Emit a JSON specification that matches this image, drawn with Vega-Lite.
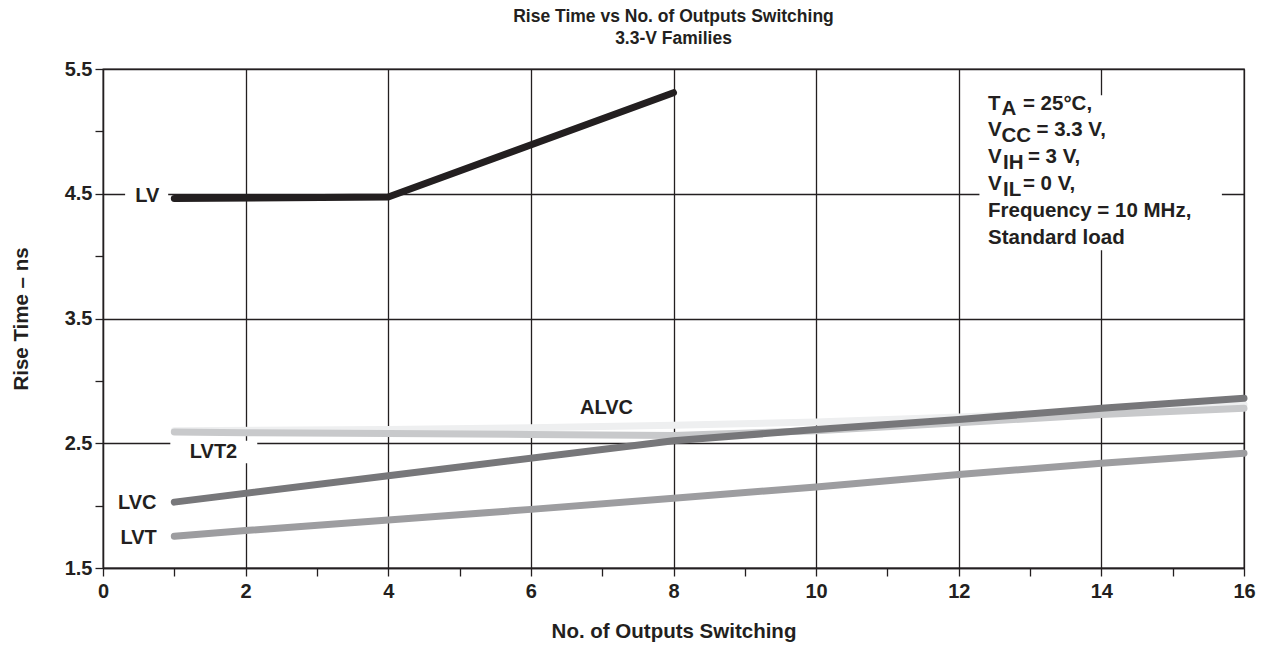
{
  "$schema": "https://vega.github.io/schema/vega-lite/v6.json",
  "width": 1141,
  "height": 499,
  "autosize": {"type": "none"},
  "padding": {"left": 103, "top": 69, "right": 30, "bottom": 87},
  "background": "white",
  "config": {
    "font": "Liberation Sans",
    "view": {"stroke": "#231f20", "strokeWidth": 1.3},
    "axis": {
      "domainColor": "#231f20",
      "domainWidth": 1.3,
      "tickColor": "#231f20",
      "tickWidth": 1.3,
      "tickSize": 8,
      "gridColor": "#231f20",
      "gridWidth": 1.3,
      "labelFont": "Liberation Sans",
      "labelFontWeight": "bold",
      "labelFontSize": 20,
      "labelColor": "#231f20",
      "titleFont": "Liberation Sans",
      "titleFontWeight": "bold",
      "titleFontSize": 20.5,
      "titleColor": "#231f20"
    }
  },
  "title": {
    "text": ["Rise Time vs No. of Outputs Switching", "3.3-V Families"],
    "fontSize": 17.5,
    "fontWeight": "bold",
    "font": "Liberation Sans",
    "color": "#231f20",
    "anchor": "middle",
    "lineHeight": 22,
    "offset": 12
  },
  "datasets": {
    "curves": [
      {"series": "ALVC", "outputs": 1, "rise": 2.6},
      {"series": "ALVC", "outputs": 4, "rise": 2.61},
      {"series": "ALVC", "outputs": 6, "rise": 2.625},
      {"series": "ALVC", "outputs": 8, "rise": 2.645},
      {"series": "ALVC", "outputs": 10, "rise": 2.67},
      {"series": "ALVC", "outputs": 12, "rise": 2.71},
      {"series": "ALVC", "outputs": 14, "rise": 2.76},
      {"series": "ALVC", "outputs": 16, "rise": 2.81},
      {"series": "LVT2", "outputs": 1, "rise": 2.59},
      {"series": "LVT2", "outputs": 2, "rise": 2.585},
      {"series": "LVT2", "outputs": 4, "rise": 2.578},
      {"series": "LVT2", "outputs": 6, "rise": 2.57},
      {"series": "LVT2", "outputs": 8, "rise": 2.563},
      {"series": "LVT2", "outputs": 10, "rise": 2.6},
      {"series": "LVT2", "outputs": 12, "rise": 2.665},
      {"series": "LVT2", "outputs": 14, "rise": 2.73},
      {"series": "LVT2", "outputs": 16, "rise": 2.78},
      {"series": "LVT", "outputs": 1, "rise": 1.755},
      {"series": "LVT", "outputs": 2, "rise": 1.8},
      {"series": "LVT", "outputs": 4, "rise": 1.885},
      {"series": "LVT", "outputs": 6, "rise": 1.97},
      {"series": "LVT", "outputs": 8, "rise": 2.06},
      {"series": "LVT", "outputs": 10, "rise": 2.15},
      {"series": "LVT", "outputs": 12, "rise": 2.25},
      {"series": "LVT", "outputs": 14, "rise": 2.34},
      {"series": "LVT", "outputs": 16, "rise": 2.42},
      {"series": "LVC", "outputs": 1, "rise": 2.028},
      {"series": "LVC", "outputs": 4, "rise": 2.24},
      {"series": "LVC", "outputs": 8, "rise": 2.52},
      {"series": "LVC", "outputs": 10, "rise": 2.61},
      {"series": "LVC", "outputs": 12, "rise": 2.69},
      {"series": "LVC", "outputs": 14, "rise": 2.78},
      {"series": "LVC", "outputs": 16, "rise": 2.861},
      {"series": "LV", "outputs": 1, "rise": 4.462},
      {"series": "LV", "outputs": 4, "rise": 4.474},
      {"series": "LV", "outputs": 8, "rise": 5.31}
    ],
    "knockouts": [
      {"x1": 0.31, "x2": 0.914, "y1": 4.56, "y2": 4.4},
      {"x1": 0.944, "x2": 2.163, "y1": 2.52, "y2": 2.34},
      {"x1": 12.29, "x2": 15.69, "y1": 5.289, "y2": 4.047}
    ],
    "labels": [
      {"text": "LV", "x": 0.62, "y": 4.48},
      {"text": "LVT2", "x": 1.55, "y": 2.43},
      {"text": "LVC", "x": 0.48, "y": 2.02},
      {"text": "LVT", "x": 0.5, "y": 1.74},
      {"text": "ALVC", "x": 7.06, "y": 2.78}
    ],
    "notes": [
      {"text": "T", "x": 12.41, "y": 5.175},
      {"text": "A", "x": 12.6, "y": 5.129},
      {"text": "= 25°C,", "x": 12.9, "y": 5.175},
      {"text": "V", "x": 12.41, "y": 4.961},
      {"text": "CC", "x": 12.6, "y": 4.913},
      {"text": "= 3.3 V,", "x": 13.09, "y": 4.961},
      {"text": "V", "x": 12.41, "y": 4.747},
      {"text": "IH", "x": 12.62, "y": 4.696},
      {"text": "= 3 V,", "x": 12.97, "y": 4.747},
      {"text": "V", "x": 12.41, "y": 4.528},
      {"text": "IL", "x": 12.62, "y": 4.48},
      {"text": "= 0 V,", "x": 12.9, "y": 4.528},
      {"text": "Frequency = 10 MHz,", "x": 12.41, "y": 4.314},
      {"text": "Standard load", "x": 12.41, "y": 4.101}
    ]
  },
  "layer": [
    {
      "data": {"name": "knockouts"},
      "mark": {"type": "rect", "fill": "white", "stroke": null},
      "encoding": {
        "x": {
          "field": "x1", "type": "quantitative",
          "scale": {"domain": [0, 16], "nice": false, "zero": false},
          "axis": {
            "values": [0,1,2,3,4,5,6,7,8,9,10,11,12,13,14,15,16],
            "labelExpr": "datum.value % 2 === 0 ? format(datum.value, 'd') : ''",
            "grid": true,
            "gridOpacity": {"condition": {"test": "datum.value % 2 === 1", "value": 0}, "value": 1},
            "labelPadding": 5,
            "labelFlush": false,
            "labelOverlap": false,
            "title": "No. of Outputs Switching",
            "titlePadding": 20
          }
        },
        "x2": {"field": "x2"},
        "y": {
          "field": "y1", "type": "quantitative",
          "scale": {"domain": [1.5, 5.5], "nice": false, "zero": false},
          "axis": {
            "values": [1.5,2,2.5,3,3.5,4,4.5,5,5.5],
            "labelExpr": "datum.value % 1 === 0.5 ? format(datum.value, '.1f') : ''",
            "grid": true,
            "gridOpacity": {"condition": {"test": "datum.value % 1 === 0", "value": 0}, "value": 1},
            "labelPadding": 3,
            "labelFlush": false,
            "labelOverlap": false,
            "title": "Rise Time – ns",
            "titlePadding": 33
          }
        },
        "y2": {"field": "y2"}
      }
    },
    {
      "data": {"name": "curves"},
      "mark": {"type": "line", "strokeWidth": 7, "strokeCap": "round", "strokeJoin": "round"},
      "encoding": {
        "x": {"field": "outputs", "type": "quantitative"},
        "y": {"field": "rise", "type": "quantitative"},
        "color": {
          "field": "series", "type": "nominal",
          "scale": {"domain": ["ALVC", "LVT2", "LVT", "LVC", "LV"], "range": ["#eeeff0", "#c8c9cb", "#9d9da0", "#77777a", "#231f20"]},
          "legend": null
        }
      }
    },
    {
      "data": {"name": "labels"},
      "mark": {"type": "text", "font": "Liberation Sans", "fontWeight": "bold", "fontSize": 20, "color": "#231f20", "align": "center", "baseline": "middle"},
      "encoding": {
        "x": {"field": "x", "type": "quantitative"},
        "y": {"field": "y", "type": "quantitative"},
        "text": {"field": "text"}
      }
    },
    {
      "data": {"name": "notes"},
      "mark": {"type": "text", "font": "Liberation Sans", "fontWeight": "bold", "fontSize": 20.5, "color": "#231f20", "align": "left", "baseline": "alphabetic"},
      "encoding": {
        "x": {"field": "x", "type": "quantitative"},
        "y": {"field": "y", "type": "quantitative"},
        "text": {"field": "text"}
      }
    }
  ]
}
